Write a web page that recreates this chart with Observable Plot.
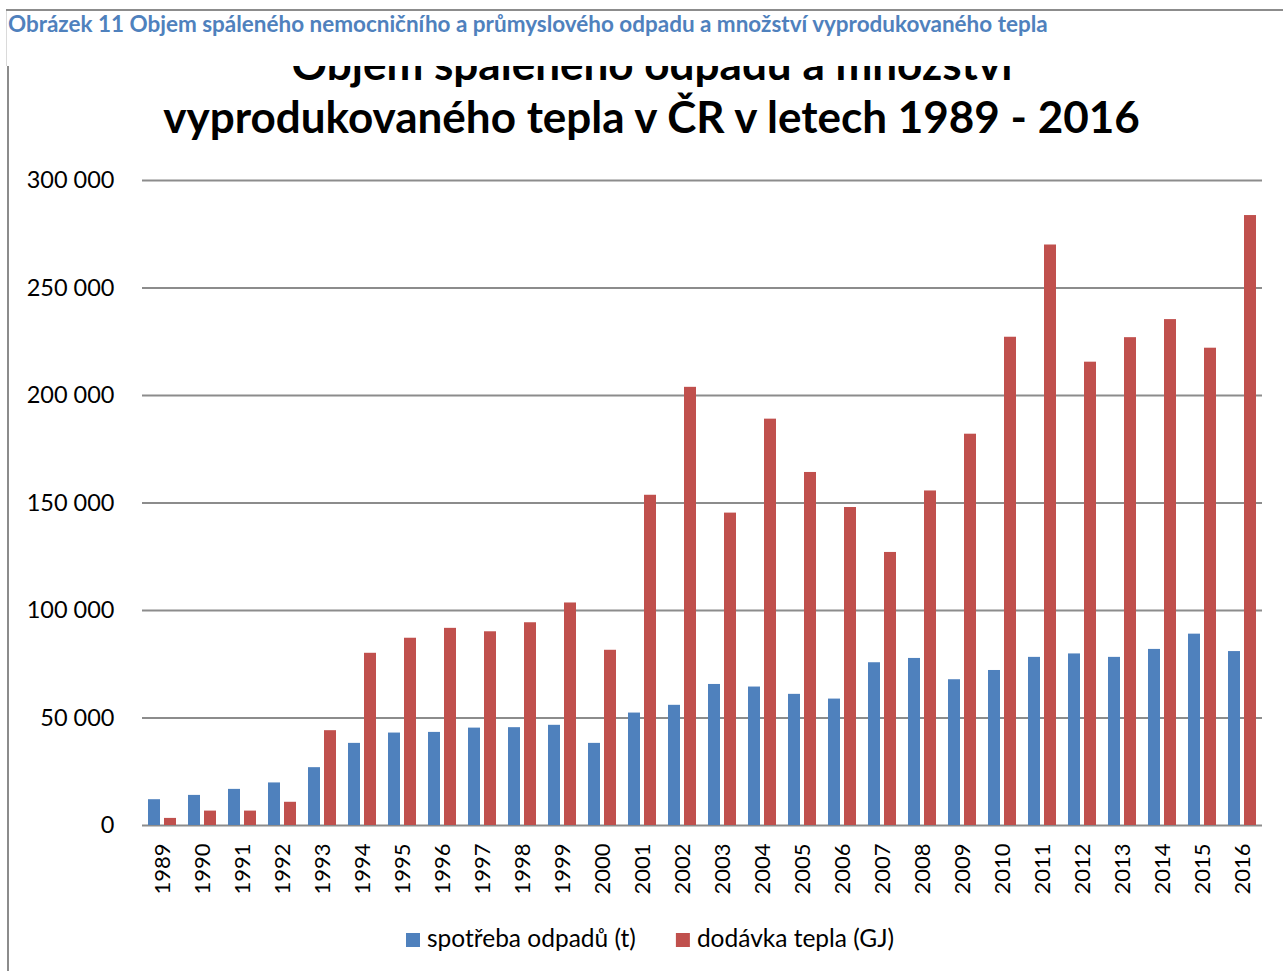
<!DOCTYPE html>
<html><head><meta charset="utf-8">
<script src="https://cdn.jsdelivr.net/npm/d3@7"></script>
<script src="https://cdn.jsdelivr.net/npm/@observablehq/plot@0.6"></script>
<style>
html,body{margin:0;padding:0;background:#fff;}
body{width:1283px;height:971px;position:relative;overflow:hidden;font-family:Lato,sans-serif;}
.abs{position:absolute;}
</style></head><body>
<div class="abs" style="left:6px;top:9px;width:1277px;height:2px;background:#8c8c8c"></div>
<div class="abs" style="left:6px;top:11px;width:1px;height:55px;background:#dadada"></div>
<div class="abs" style="left:7px;top:66px;width:2px;height:905px;background:#8c8c8c"></div>
<svg id="caption" class="abs" style="left:0;top:0" width="1283" height="46"></svg>
<svg id="title" class="abs" style="left:0;top:66px" width="1283" height="90"></svg>
<div id="chart" class="abs" style="left:0;top:160px"></div>
<svg id="legend" class="abs" style="left:0;top:920px" width="1283" height="40"></svg>
<script>
const captionText = "Obrázek 11 Objem spáleného nemocničního a průmyslového odpadu a množství vyprodukovaného tepla";
const titleLines = ["Objem spáleného odpadu a množství", "vyprodukovaného tepla v ČR v letech 1989 - 2016"];
const years = ["1989","1990","1991","1992","1993","1994","1995","1996","1997","1998","1999","2000","2001","2002","2003","2004","2005","2006","2007","2008","2009","2010","2011","2012","2013","2014","2015","2016"];
const seriesNames = ["spotřeba odpadů (t)", "dodávka tepla (GJ)"];
const seriesColors = ["#4f81bd", "#c0504d"];
const wasteT = [12000,14000,16800,19800,26900,38200,43000,43300,45300,45500,46600,38200,52300,55900,65600,64400,61000,58800,75700,77700,67800,72100,78200,79800,78200,81900,89000,80900];
const heatGJ = [3300,6700,6700,10800,44100,80100,87100,91700,90100,94300,103500,81500,153600,203800,145300,189000,164200,147900,127000,155600,182000,227100,270000,215500,226900,235300,222000,283700];
const yTickValues = [0,50000,100000,150000,200000,250000,300000];

const data = [];
years.forEach((y, i) => {
  data.push({year: y, series: seriesNames[0], value: wasteT[i]});
  data.push({year: y, series: seriesNames[1], value: heatGJ[i]});
});

function fitText(t, target) {
  const fs = parseFloat(t.attr("font-size"));
  const w = t.node().getComputedTextLength();
  t.attr("font-size", fs * target / w);
  return fs * target / w;
}

// caption
const cap = d3.select("#caption").append("text")
  .attr("x", 8).attr("y", 32).attr("fill", "#4f81bd")
  .attr("font-family", "Lato, sans-serif").attr("font-weight", "bold")
  .attr("font-size", 20).text(captionText);
fitText(cap, 1040);

// title (top line partly hidden, as in the source)
const tsvg = d3.select("#title");
const t2 = tsvg.append("text").attr("x", 651.5).attr("y", 67).attr("text-anchor", "middle")
  .attr("font-family", "Lato, sans-serif").attr("font-weight", "bold").attr("font-size", 44)
  .attr("fill", "#000").text(titleLines[1]);
const tfs = fitText(t2, 977);
tsvg.append("text").attr("x", 652).attr("y", 14).attr("text-anchor", "middle")
  .attr("font-family", "Lato, sans-serif").attr("font-weight", "bold").attr("font-size", tfs)
  .attr("fill", "#000").text(titleLines[0]);

const fmt = d => d3.format(",")(d).replace(/,/g, " ");

const chart = Plot.plot({
  width: 1283, height: 740,
  marginTop: 20, marginBottom: 75, marginLeft: 137, marginRight: 16,
  style: {fontFamily: "Lato, sans-serif", fontSize: "22px", color: "#000", background: "transparent"},
  facet: {data, x: "year", marginBottom: 75},
  fx: {domain: years, padding: 0, tickRotate: -90, tickSize: 0, tickPadding: 18, label: null, axis: "bottom"},
  x: {domain: seriesNames, paddingInner: 0.233, paddingOuter: 0.294, axis: null},
  y: {domain: [0, 300000], ticks: yTickValues, tickSize: 0, tickPadding: 28, tickFormat: fmt, label: null},
  color: {domain: seriesNames, range: seriesColors},
  marks: [
    Plot.ruleY(yTickValues, {stroke: "#8c8c8c", strokeWidth: 2}),
    Plot.barY(data, {x: "series", y: "value", fill: "series"})
  ]
});
d3.select(chart).selectAll('[aria-label^="y-axis"] text').attr("font-size", 23.5);
document.getElementById("chart").appendChild(chart);

// legend
const lg = d3.select("#legend");
let lx = 406, lfs = null;
seriesNames.forEach((name, i) => {
  lg.append("rect").attr("x", lx).attr("y", 13).attr("width", 14).attr("height", 14).attr("fill", seriesColors[i]);
  const tx = lg.append("text").attr("x", lx + 21).attr("y", 27)
    .attr("font-family", "Lato, sans-serif").attr("font-size", lfs || 22).attr("fill", "#000").text(name);
  if (i === 0) lfs = fitText(tx, 209);
  lx += 21 + tx.node().getComputedTextLength() + 40;
});
</script>
</body></html>
